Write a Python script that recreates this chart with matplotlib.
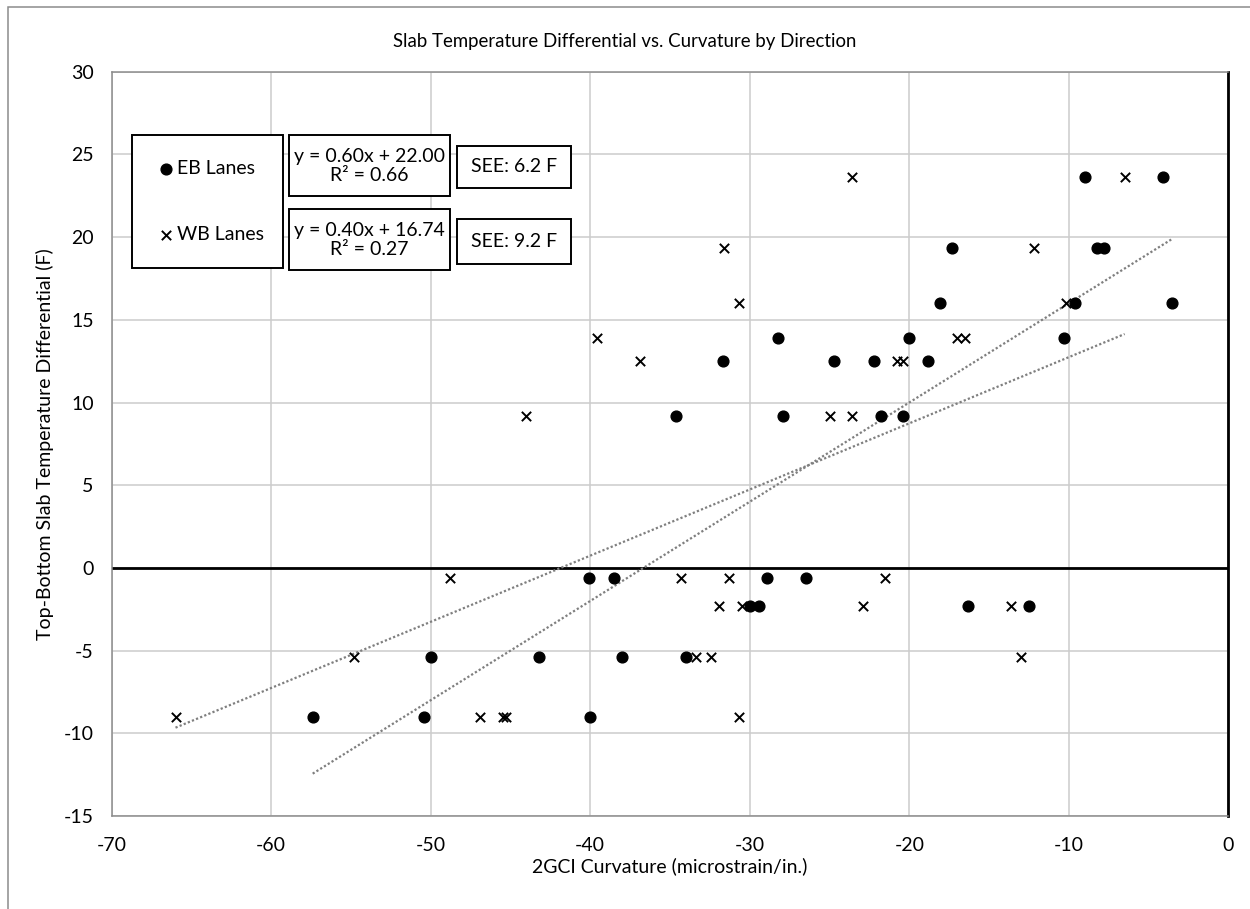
import numpy as np
import matplotlib
matplotlib.use("Agg")
import matplotlib.pyplot as plt
from matplotlib.patches import Rectangle

"""
Slab temperature differential vs. 2GCI curvature, split by lane direction.
"""

plt.rcParams['font.family'] = ['Lato', 'DejaVu Sans']
plt.rcParams['axes.unicode_minus'] = False

# EB lanes (curvature, temperature differential)
ebCurv = [-57.4, -50.4, -40.0,
          -50.0, -43.2, -38.0, -34.0,
          -30.0, -29.4, -16.3, -12.5,
          -40.1, -38.5, -28.9, -26.5,
          -34.6, -27.9, -21.8, -20.4,
          -31.7, -24.7, -22.2, -18.8,
          -28.2, -20.0, -10.3,
          -18.1, -9.6, -3.5,
          -17.3, -8.2, -7.8,
          -9.0, -4.1]
ebTemp = [-9.0, -9.0, -9.0,
          -5.4, -5.4, -5.4, -5.4,
          -2.3, -2.3, -2.3, -2.3,
          -0.6, -0.6, -0.6, -0.6,
          9.2, 9.2, 9.2, 9.2,
          12.5, 12.5, 12.5, 12.5,
          13.9, 13.9, 13.9,
          16.0, 16.0, 16.0,
          19.35, 19.35, 19.35,
          23.65, 23.65]

# WB lanes
wbCurv = [-66.0, -46.9, -45.5, -45.3, -30.7,
          -54.8, -33.4, -32.4, -13.0,
          -31.9, -30.5, -22.9, -13.6,
          -48.8, -34.3, -31.3, -21.5,
          -44.0, -25.0, -23.6,
          -36.9, -20.8, -20.4,
          -39.6, -17.0, -16.5,
          -30.7, -10.2,
          -31.6, -12.2,
          -23.6, -6.5]
wbTemp = [-9.0, -9.0, -9.0, -9.0, -9.0,
          -5.4, -5.4, -5.4, -5.4,
          -2.3, -2.3, -2.3, -2.3,
          -0.6, -0.6, -0.6, -0.6,
          9.2, 9.2, 9.2,
          12.5, 12.5, 12.5,
          13.9, 13.9, 13.9,
          16.0, 16.0,
          19.35, 19.35,
          23.65, 23.65]

# linear trends as reported on the chart
ebSlope, ebIntercept, ebR2, ebSEE = 0.60, 22.00, 0.66, 6.2
wbSlope, wbIntercept, wbR2, wbSEE = 0.40, 16.74, 0.27, 9.2

xTicks = [-70, -60, -50, -40, -30, -20, -10, 0]
yTicks = [-15, -10, -5, 0, 5, 10, 15, 20, 25, 30]

W, H = 1250, 909
fs = 14


def fx(px):
    return px / W


def fy(py):
    return 1 - py / H


fig = plt.figure(figsize=(W / 100, H / 100), dpi=100)
ax = fig.add_axes([fx(111.7), fy(816), (1228.3 - 111.7) / W, (816 - 71.7) / H])

ax.set_xlim(-70, 0)
ax.set_ylim(-15, 30)
ax.set_xticks(xTicks)
ax.set_yticks(yTicks)
ax.grid(True, color="#cccccc", lw=1.1)
ax.set_axisbelow(True)
ax.tick_params(length=0, labelsize=fs)
ax.tick_params(axis='y', pad=13)
ax.tick_params(axis='x', pad=15)

for side in ['left', 'bottom', 'top']:
    ax.spines[side].set_color("#8c8c8c")
    ax.spines[side].set_linewidth(1.1)
ax.spines['right'].set_color("black")
ax.spines['right'].set_linewidth(2)
ax.axhline(0, color="black", lw=2, zorder=2)

ebPts = ax.scatter(ebCurv, ebTemp, s=60, marker='o', color='black', zorder=3, label="EB Lanes")
wbPts = ax.scatter(wbCurv, wbTemp, s=45, marker='x', color='black', linewidths=1.4, zorder=3, label="WB Lanes")

for curv, slope, icpt in [(ebCurv, ebSlope, ebIntercept), (wbCurv, wbSlope, wbIntercept)]:
    xs = np.array([min(curv), max(curv)])
    ax.plot(xs, slope * xs + icpt, color="#7f7f7f", lw=1.6, ls=(0, (1, 1)), zorder=2)

ax.set_xlabel("2GCI Curvature (microstrain/in.)", fontsize=fs)
ax.set_ylabel("Top-Bottom Slab Temperature Differential (F)", fontsize=fs)
ax.xaxis.set_label_coords(0.5, -(857 - 816) / 744.3)
ax.yaxis.set_label_coords(-(111.7 - 54) / 1116.6, 0.5)

fig.text(fx(625), fy(42), "Slab Temperature Differential vs. Curvature by Direction",
         ha='center', va='center', fontsize=13.4)

# outer chart border
fig.add_artist(Rectangle((fx(8), fy(1000)), 2, fy(7) - fy(1000), transform=fig.transFigure,
                         fill=False, ec="#8c8c8c", lw=1.1))


def box(x0, y0, x1, y1):
    fig.add_artist(Rectangle((fx(x0), fy(y1)), fx(x1) - fx(x0), fy(y0) - fy(y1),
                             transform=fig.transFigure, fill=True, fc='white', ec='black', lw=1.4, zorder=5))


box(131.7, 135, 283.3, 268.3)
leg = fig.legend(handles=[ebPts, wbPts], loc='center', bbox_to_anchor=(fx(210), fy(201.5)),
                 frameon=False, fontsize=fs, labelspacing=2.5, handletextpad=0.1, handlelength=1.0)
leg.set_zorder(6)

box(289, 135, 450, 196)
fig.text(fx(369.5), fy(166), "y = %.2fx + %.2f\nR² = %.2f" % (ebSlope, ebIntercept, ebR2),
         ha='center', va='center', fontsize=fs, linespacing=1.2, zorder=6)
box(289, 209.3, 450, 270)
fig.text(fx(369.5), fy(240), "y = %.2fx + %.2f\nR² = %.2f" % (wbSlope, wbIntercept, wbR2),
         ha='center', va='center', fontsize=fs, linespacing=1.2, zorder=6)

box(456.7, 146, 571, 188.3)
fig.text(fx(513.8), fy(167), "SEE: %.1f F" % ebSEE, ha='center', va='center', fontsize=fs, zorder=6)
box(456.7, 219, 571, 264)
fig.text(fx(513.8), fy(241.5), "SEE: %.1f F" % wbSEE, ha='center', va='center', fontsize=fs, zorder=6)

fig.savefig("out.png", dpi=100)
plt.close()
